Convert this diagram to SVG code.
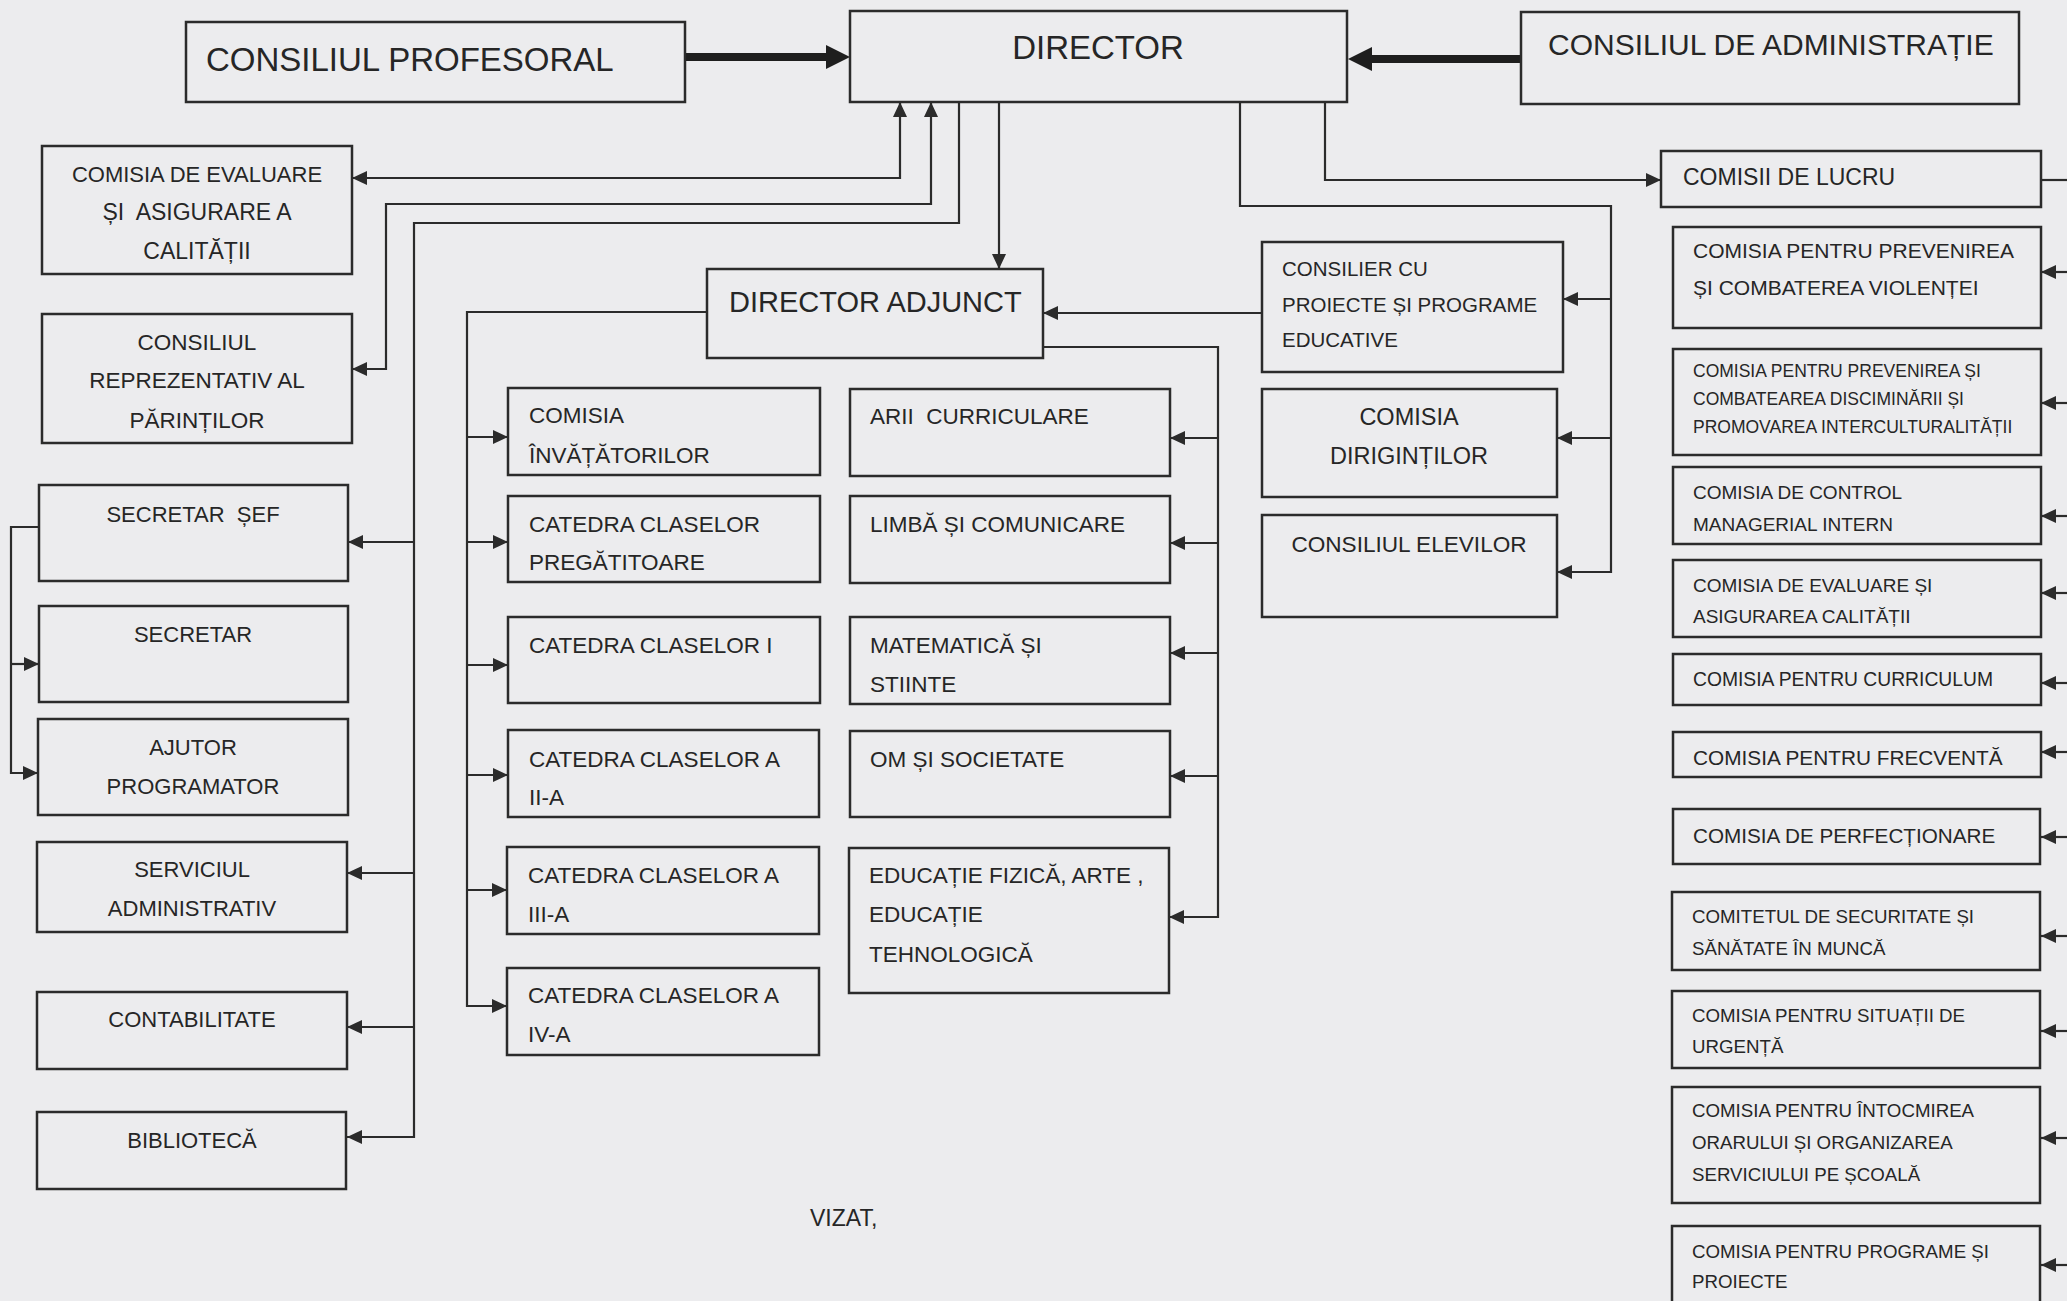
<svg xmlns="http://www.w3.org/2000/svg" width="2067" height="1301" viewBox="0 0 2067 1301">
<style>
.box{fill:none;stroke:#2b2b2b;stroke-width:2.5}
.ln{fill:none;stroke:#2b2b2b;stroke-width:2.2}
.thick{fill:none;stroke:#1e1e1e;stroke-width:8}
.t{font-family:"Liberation Sans",Arial,sans-serif;fill:#262626}
.c{text-anchor:middle}
.s22{font-size:22px}
.s225{font-size:22.5px}
.s19{font-size:19px}
.pre{white-space:pre}
</style>
<defs>
<marker id="ah" markerUnits="userSpaceOnUse" markerWidth="16" markerHeight="14" refX="15" refY="7" orient="auto-start-reverse" viewBox="0 0 16 14">
<path d="M0,0 L15,7 L0,14 z" fill="#2b2b2b"/>
</marker>
</defs>
<rect x="0" y="0" width="2067" height="1301" fill="#ececee"/>

<g id="connectors">
<line class="thick" x1="685" y1="57" x2="830" y2="57"/>
<polygon points="826,45 850,57 826,69" fill="#1e1e1e"/>
<line class="thick" x1="1521" y1="59" x2="1368" y2="59"/>
<polygon points="1372,47 1348,59 1372,71" fill="#1e1e1e"/>

<path class="ln" d="M900,102 V178 H352" marker-start="url(#ah)" marker-end="url(#ah)"/>
<path class="ln" d="M931,102 V204 H386 V369 H352" marker-start="url(#ah)" marker-end="url(#ah)"/>
<path class="ln" d="M959,102 V223 H414 V1137 H347" marker-end="url(#ah)"/>
<path class="ln" d="M414,542 H348" marker-end="url(#ah)"/>
<path class="ln" d="M414,873 H347" marker-end="url(#ah)"/>
<path class="ln" d="M414,1027 H347" marker-end="url(#ah)"/>
<path class="ln" d="M39,527 H11 V773 H38" marker-end="url(#ah)"/>
<path class="ln" d="M11,664 H39" marker-end="url(#ah)"/>

<path class="ln" d="M999,102 V269" marker-end="url(#ah)"/>

<path class="ln" d="M707,312 H467 V1006 H507" marker-end="url(#ah)"/>
<path class="ln" d="M467,437 H508" marker-end="url(#ah)"/>
<path class="ln" d="M467,542 H508" marker-end="url(#ah)"/>
<path class="ln" d="M467,665 H508" marker-end="url(#ah)"/>
<path class="ln" d="M467,775 H508" marker-end="url(#ah)"/>
<path class="ln" d="M467,890 H507" marker-end="url(#ah)"/>

<path class="ln" d="M1043,347 H1218 V917 H1169" marker-end="url(#ah)"/>
<path class="ln" d="M1218,438 H1170" marker-end="url(#ah)"/>
<path class="ln" d="M1218,543 H1170" marker-end="url(#ah)"/>
<path class="ln" d="M1218,653 H1170" marker-end="url(#ah)"/>
<path class="ln" d="M1218,776 H1170" marker-end="url(#ah)"/>

<path class="ln" d="M1262,313 H1043" marker-end="url(#ah)"/>

<path class="ln" d="M1240,102 V206 H1611 V572 H1557" marker-end="url(#ah)"/>
<path class="ln" d="M1611,299 H1563" marker-end="url(#ah)"/>
<path class="ln" d="M1611,438 H1557" marker-end="url(#ah)"/>

<path class="ln" d="M1325,102 V180 H1661" marker-end="url(#ah)"/>
<path class="ln" d="M2041,180 H2067"/>

<path class="ln" d="M2067,272 H2041" marker-end="url(#ah)"/>
<path class="ln" d="M2067,403 H2041" marker-end="url(#ah)"/>
<path class="ln" d="M2067,516 H2041" marker-end="url(#ah)"/>
<path class="ln" d="M2067,593 H2041" marker-end="url(#ah)"/>
<path class="ln" d="M2067,683 H2041" marker-end="url(#ah)"/>
<path class="ln" d="M2067,752 H2041" marker-end="url(#ah)"/>
<path class="ln" d="M2067,837 H2041" marker-end="url(#ah)"/>
<path class="ln" d="M2067,936 H2041" marker-end="url(#ah)"/>
<path class="ln" d="M2067,1031 H2041" marker-end="url(#ah)"/>
<path class="ln" d="M2067,1138 H2041" marker-end="url(#ah)"/>
<path class="ln" d="M2067,1265 H2041" marker-end="url(#ah)"/>
</g>

<g id="consiliul-profesoral">
<rect class="box" x="186" y="22" width="499" height="80"/>
<text class="t" x="206" y="71" font-size="33">CONSILIUL PROFESORAL</text>
</g>
<g id="director">
<rect class="box" x="850" y="11" width="497" height="91"/>
<text class="t c" x="1098" y="59" font-size="33">DIRECTOR</text>
</g>
<g id="consiliul-administratie">
<rect class="box" x="1521" y="12" width="498" height="92"/>
<text class="t" x="1548" y="55" font-size="30">CONSILIUL DE ADMINISTRAȚIE</text>
</g>

<g id="comisia-evaluare">
<rect class="box" x="42" y="146" width="310" height="128"/>
<text class="t c s22" x="197" y="182" font-size="23">COMISIA DE EVALUARE</text>
<text class="t c pre" x="197" y="220" font-size="23">ȘI  ASIGURARE A</text>
<text class="t c" x="197" y="259" font-size="23">CALITĂȚII</text>
</g>
<g id="consiliul-reprezentativ">
<rect class="box" x="42" y="314" width="310" height="129"/>
<text class="t c" x="197" y="350" font-size="22.5">CONSILIUL</text>
<text class="t c" x="197" y="388" font-size="22.5">REPREZENTATIV AL</text>
<text class="t c" x="197" y="428" font-size="22.5">PĂRINȚILOR</text>
</g>
<g id="secretar-sef">
<rect class="box" x="39" y="485" width="309" height="96"/>
<text class="t c s22 pre" x="193" y="522">SECRETAR  ȘEF</text>
</g>
<g id="secretar">
<rect class="box" x="39" y="606" width="309" height="96"/>
<text class="t c s22" x="193" y="642">SECRETAR</text>
</g>
<g id="ajutor-programator">
<rect class="box" x="38" y="719" width="310" height="96"/>
<text class="t c s22" x="193" y="755">AJUTOR</text>
<text class="t c s22" x="193" y="794">PROGRAMATOR</text>
</g>
<g id="serviciul-administrativ">
<rect class="box" x="37" y="842" width="310" height="90"/>
<text class="t c s22" x="192" y="877">SERVICIUL</text>
<text class="t c s22" x="192" y="916">ADMINISTRATIV</text>
</g>
<g id="contabilitate">
<rect class="box" x="37" y="992" width="310" height="77"/>
<text class="t c s22" x="192" y="1027">CONTABILITATE</text>
</g>
<g id="biblioteca">
<rect class="box" x="37" y="1112" width="309" height="77"/>
<text class="t c s22" x="192" y="1148">BIBLIOTECĂ</text>
</g>

<g id="director-adjunct">
<rect class="box" x="707" y="269" width="336" height="89"/>
<text class="t" x="729" y="312" font-size="29">DIRECTOR ADJUNCT</text>
</g>

<g id="comisia-invatatorilor">
<rect class="box" x="508" y="388" width="312" height="87"/>
<text class="t s225" x="529" y="423">COMISIA</text>
<text class="t s225" x="529" y="463">ÎNVĂȚĂTORILOR</text>
</g>
<g id="catedra-pregatitoare">
<rect class="box" x="508" y="496" width="312" height="86"/>
<text class="t s225" x="529" y="532">CATEDRA CLASELOR</text>
<text class="t s225" x="529" y="570">PREGĂTITOARE</text>
</g>
<g id="catedra-i">
<rect class="box" x="508" y="617" width="312" height="86"/>
<text class="t s225" x="529" y="653">CATEDRA CLASELOR I</text>
</g>
<g id="catedra-ii">
<rect class="box" x="508" y="730" width="311" height="87"/>
<text class="t s225" x="529" y="767">CATEDRA CLASELOR A</text>
<text class="t s225" x="529" y="805">II-A</text>
</g>
<g id="catedra-iii">
<rect class="box" x="507" y="847" width="312" height="87"/>
<text class="t s225" x="528" y="883">CATEDRA CLASELOR A</text>
<text class="t s225" x="528" y="922">III-A</text>
</g>
<g id="catedra-iv">
<rect class="box" x="507" y="968" width="312" height="87"/>
<text class="t s225" x="528" y="1003">CATEDRA CLASELOR A</text>
<text class="t s225" x="528" y="1042">IV-A</text>
</g>

<g id="arii-curriculare">
<rect class="box" x="850" y="389" width="320" height="87"/>
<text class="t s225 pre" x="870" y="424">ARII  CURRICULARE</text>
</g>
<g id="limba-comunicare">
<rect class="box" x="850" y="496" width="320" height="87"/>
<text class="t s225" x="870" y="532">LIMBĂ ȘI COMUNICARE</text>
</g>
<g id="matematica">
<rect class="box" x="850" y="617" width="320" height="87"/>
<text class="t s225" x="870" y="653">MATEMATICĂ ȘI</text>
<text class="t s225" x="870" y="692">STIINTE</text>
</g>
<g id="om-societate">
<rect class="box" x="850" y="731" width="320" height="86"/>
<text class="t s225" x="870" y="767">OM ȘI SOCIETATE</text>
</g>
<g id="educatie">
<rect class="box" x="849" y="848" width="320" height="145"/>
<text class="t s225" x="869" y="883">EDUCAȚIE FIZICĂ, ARTE ,</text>
<text class="t s225" x="869" y="922">EDUCAȚIE</text>
<text class="t s225" x="869" y="962">TEHNOLOGICĂ</text>
</g>

<g id="consilier-proiecte">
<rect class="box" x="1262" y="242" width="301" height="130"/>
<text class="t" x="1282" y="276" font-size="20.5">CONSILIER CU</text>
<text class="t" x="1282" y="312" font-size="20.5">PROIECTE ȘI PROGRAME</text>
<text class="t" x="1282" y="347" font-size="20.5">EDUCATIVE</text>
</g>
<g id="comisia-dirigintilor">
<rect class="box" x="1262" y="389" width="295" height="108"/>
<text class="t c" x="1409" y="425" font-size="23.5">COMISIA</text>
<text class="t c" x="1409" y="464" font-size="23.5">DIRIGINȚILOR</text>
</g>
<g id="consiliul-elevilor">
<rect class="box" x="1262" y="515" width="295" height="102"/>
<text class="t c" x="1409" y="552" font-size="22.6">CONSILIUL ELEVILOR</text>
</g>

<g id="comisii-de-lucru">
<rect class="box" x="1661" y="151" width="380" height="56"/>
<text class="t" x="1683" y="185" font-size="23">COMISII DE LUCRU</text>
</g>
<g id="comisia-violenta">
<rect class="box" x="1673" y="227" width="368" height="101"/>
<text class="t" x="1693" y="258" font-size="21">COMISIA PENTRU PREVENIREA</text>
<text class="t" x="1693" y="295" font-size="21">ȘI COMBATEREA VIOLENȚEI</text>
</g>
<g id="comisia-discriminare">
<rect class="box" x="1673" y="349" width="368" height="106"/>
<text class="t" x="1693" y="377" font-size="17.5">COMISIA PENTRU PREVENIREA ȘI</text>
<text class="t" x="1693" y="405" font-size="17.5">COMBATEAREA DISCIMINĂRII ȘI</text>
<text class="t" x="1693" y="433" font-size="17.5">PROMOVAREA INTERCULTURALITĂȚII</text>
</g>
<g id="comisia-control">
<rect class="box" x="1673" y="467" width="368" height="77"/>
<text class="t s19" x="1693" y="499">COMISIA DE CONTROL</text>
<text class="t s19" x="1693" y="531">MANAGERIAL INTERN</text>
</g>
<g id="comisia-evaluare-calitatii">
<rect class="box" x="1673" y="560" width="368" height="77"/>
<text class="t s19" x="1693" y="592">COMISIA DE EVALUARE ȘI</text>
<text class="t s19" x="1693" y="623">ASIGURAREA CALITĂȚII</text>
</g>
<g id="comisia-curriculum">
<rect class="box" x="1673" y="654" width="368" height="51"/>
<text class="t" x="1693" y="686" font-size="19.3">COMISIA PENTRU CURRICULUM</text>
</g>
<g id="comisia-frecventa">
<rect class="box" x="1673" y="732" width="368" height="45"/>
<text class="t" x="1693" y="765" font-size="20.8">COMISIA PENTRU FRECVENTĂ</text>
</g>
<g id="comisia-perfectionare">
<rect class="box" x="1673" y="809" width="367" height="55"/>
<text class="t" x="1693" y="843" font-size="20.7">COMISIA DE PERFECȚIONARE</text>
</g>
<g id="comitetul-securitate">
<rect class="box" x="1672" y="892" width="368" height="78"/>
<text class="t" x="1692" y="923" font-size="18.7">COMITETUL DE SECURITATE ȘI</text>
<text class="t" x="1692" y="955" font-size="18.7">SĂNĂTATE ÎN MUNCĂ</text>
</g>
<g id="comisia-situatii">
<rect class="box" x="1672" y="991" width="368" height="77"/>
<text class="t" x="1692" y="1022" font-size="18.7">COMISIA PENTRU SITUAȚII DE</text>
<text class="t" x="1692" y="1053" font-size="18.7">URGENȚĂ</text>
</g>
<g id="comisia-orar">
<rect class="box" x="1672" y="1087" width="368" height="116"/>
<text class="t" x="1692" y="1117" font-size="18.7">COMISIA PENTRU ÎNTOCMIREA</text>
<text class="t" x="1692" y="1149" font-size="18.7">ORARULUI ȘI ORGANIZAREA</text>
<text class="t" x="1692" y="1181" font-size="18.7">SERVICIULUI PE ȘCOALĂ</text>
</g>
<g id="comisia-programe">
<rect class="box" x="1672" y="1226" width="368" height="90"/>
<text class="t" x="1692" y="1258" font-size="18.7">COMISIA PENTRU PROGRAME ȘI</text>
<text class="t" x="1692" y="1288" font-size="18.7">PROIECTE</text>
</g>

<text class="t" x="810" y="1226" font-size="23">VIZAT,</text>
</svg>
